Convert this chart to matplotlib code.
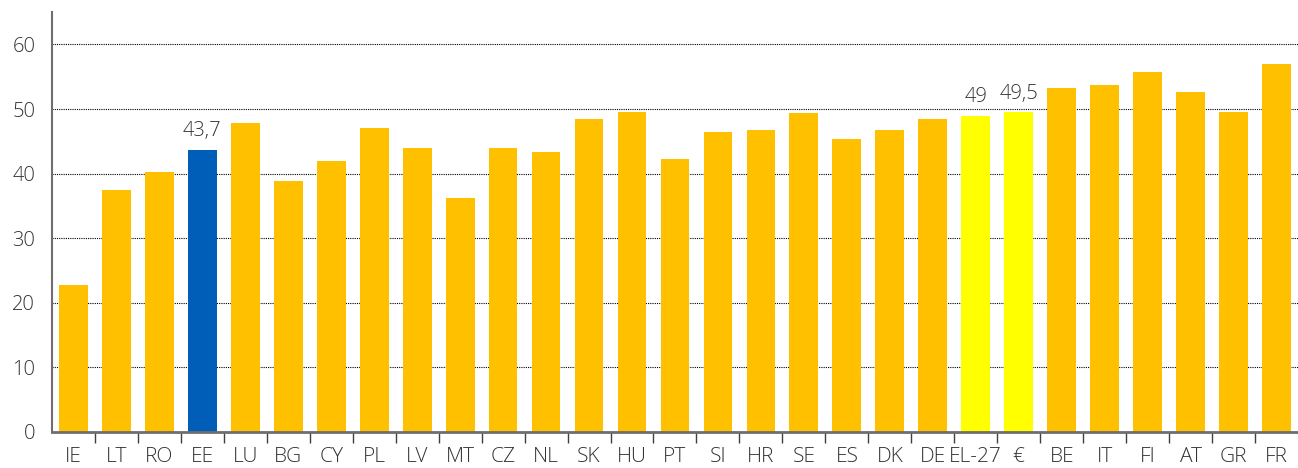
import matplotlib.pyplot as plt

# countries / aggregates, in display order
countries = ["IE", "LT", "RO", "EE", "LU", "BG", "CY", "PL", "LV", "MT", "CZ", "NL",
             "SK", "HU", "PT", "SI", "HR", "SE", "ES", "DK", "DE", "EL-27", "€",
             "BE", "IT", "FI", "AT", "GR", "FR"]
values = [22.7, 37.4, 40.3, 43.7, 47.9, 38.8, 41.9, 47.0, 44.0, 36.3, 43.9, 43.3,
          48.5, 49.5, 42.3, 46.5, 46.7, 49.4, 45.4, 46.8, 48.4, 49.0, 49.5,
          53.3, 53.8, 55.8, 52.7, 49.5, 57.0]
value_labels = {"EE": "43,7", "EL-27": "49", "€": "49,5"}
yticks = [0, 10, 20, 30, 40, 50, 60]

plt.rcParams['font.family'] = ['Open Sans', 'DejaVu Sans']
text_color = "#333333"

colors = []
for c in countries:
    if c == "EE":
        colors.append("#005EB8")
    elif c in ("EL-27", "€"):
        colors.append("#FFFF00")
    else:
        colors.append("#FFC000")

fig = plt.figure(figsize=(12.98, 4.68), dpi=100)
ax = fig.add_axes([0.040, 0.077, 0.960, 0.897])

x = range(len(countries))
bars = ax.bar(x, values, width=0.67, color=colors, zorder=3)

for b, c, v in zip(bars, countries, values):
    if c in value_labels:
        ax.text(b.get_x() + b.get_width() / 2, v + 1.3, value_labels[c],
                ha="center", va="bottom", fontsize=14.5, color=text_color,
                fontweight="light")

ax.set_xlim(-0.5, len(countries) - 0.5)
ax.set_ylim(0, 65)
ax.set_yticks(yticks)
ax.set_yticklabels([str(t) for t in yticks], fontsize=14.5, color=text_color,
                   fontweight="light")
ax.tick_params(axis="y", length=0, pad=12)

# country names centred under bars, ticks on the category borders
ax.set_xticks(list(x))
ax.set_xticklabels(countries, fontsize=15, color=text_color, fontweight="light")
ax.tick_params(axis="x", which="major", length=0, pad=11)
ax.set_xticks([i + 0.5 for i in range(len(countries) - 1)], minor=True)
ax.tick_params(axis="x", which="minor", length=8, width=1, color="#404040", direction="out")

ax.yaxis.grid(True, linestyle=(0, (1, 1)), color="black", linewidth=0.8, zorder=0)
ax.set_axisbelow(True)

for s in ["top", "right"]:
    ax.spines[s].set_visible(False)
ax.spines["left"].set_color("#6e6e6e")
ax.spines["left"].set_linewidth(1.5)
ax.spines["bottom"].set_color("#6e6e6e")
ax.spines["bottom"].set_linewidth(2)
ax.spines["bottom"].set_zorder(4)

plt.savefig("out.png", dpi=100)
